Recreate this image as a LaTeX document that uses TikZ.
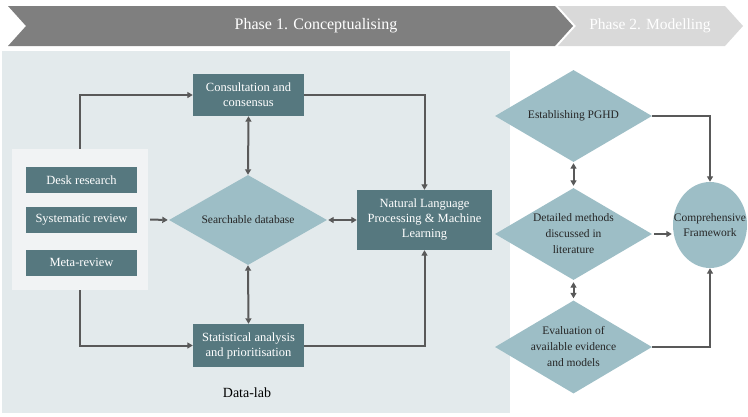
\documentclass[tikz,border=0pt]{standalone}
\usepackage{fontspec}
\setmainfont{Liberation Serif}
\usetikzlibrary{shapes.geometric,arrows.meta}

\definecolor{phaseone}{HTML}{7F7F7F}
\definecolor{phasetwo}{HTML}{D9D9D9}
\definecolor{labbg}{HTML}{E3EAEC}
\definecolor{srcbg}{HTML}{F1F3F4}
\definecolor{boxteal}{HTML}{56787F}
\definecolor{diateal}{HTML}{9DBEC6}
\definecolor{linegray}{HTML}{595959}

\begin{document}
\begin{tikzpicture}[x=1pt, y=-1pt,
  box/.style={fill=boxteal, text=white, inner sep=0pt, align=center,
    font=\fontsize{12.5}{15}\selectfont},
  dia/.style={diamond, aspect=1.7, fill=diateal, text=black!85, inner sep=0pt, align=center,
    minimum width=157pt, minimum height=92pt, font=\fontsize{11.5}{16}\selectfont},
  arr/.style={draw=linegray, line width=2pt, -{Triangle[length=5.5pt, width=6pt]}},
  biarr/.style={arr, {Triangle[length=5.5pt, width=6pt]}-{Triangle[length=5.5pt, width=6pt]}}]

  \useasboundingbox (0,0) rectangle (748,416);

  % phase banner
  \fill[phaseone] (8,6) -- (555,6) -- (573,26) -- (555,46) -- (8,46) -- (26,26) -- cycle;
  \fill[phasetwo] (558,6) -- (725,6) -- (743,26) -- (725,46) -- (558,46) -- (576,26) -- cycle;
  \node[text=white, font=\fontsize{16}{18}\selectfont] (phone) at (316,26) {Phase 1. Conceptualising};
  \node[text=white, font=\fontsize{15.5}{18}\selectfont] (phtwo) at (650,26) {Phase 2. Modelling};

  % data-lab
  \fill[labbg] (2,51) rectangle (510,413);
  \node[font=\fontsize{14}{16}\selectfont] (lab) at (247,393) {Data-lab};

  \node[fill=srcbg, minimum width=136pt, minimum height=141pt, inner sep=0pt] (src) at (80,219.5) {};
  \node[box, minimum width=111pt, minimum height=26pt] (desk) at (81.5,180) {Desk research};
  \node[box, minimum width=111pt, minimum height=26pt] (sys) at (81.5,220) {Systematic review};
  \node[box, minimum width=111pt, minimum height=26pt] (meta) at (81.5,262.5) {Meta-review};

  \node[box, minimum width=111pt, minimum height=42pt] (cons) at (248.5,95) {Consultation and\\consensus};
  \node[box, minimum width=111pt, minimum height=43pt] (stat) at (248.5,345.5) {Statistical analysis\\and prioritisation};
  \node[dia, minimum width=158pt, minimum height=90pt] (db) at (248,220) {Searchable database};
  \node[box, minimum width=135pt, minimum height=60pt] (nlp) at (424.5,220) {Natural Language\\Processing \& Machine\\Learning};

  \draw[arr] (src.north) |- (cons.west);
  \draw[arr] (src.south) |- (stat.west);
  \draw[arr, shorten <=2pt, shorten >=1pt] (src.east) -- (db.west);
  \draw[biarr] (cons.south) -- (db.north);
  \draw[biarr] (db.south) -- (stat.north);
  \draw[biarr, shorten <=1pt] (db.east) -- (nlp.west);
  \draw[arr] (cons.east) -| (nlp.north);
  \draw[arr] (stat.east) -| (nlp.south);

  % modelling
  \node[dia] (pghd) at (573.5,116) {Establishing PGHD};
  \node[dia] (meth) at (573.5,234) {Detailed methods\\discussed in\\literature};
  \node[dia, minimum height=93pt] (eval) at (573.5,347) {Evaluation of\\available evidence\\and models};
  \node[ellipse, fill=diateal, minimum width=74pt, minimum height=86pt, inner sep=0pt, align=center,
    text=black!85, font=\fontsize{11.5}{15}\selectfont] (frame) at (710,225)
    {\makebox[40pt][c]{Comprehensive}\\\makebox[40pt][c]{Framework}};

  \draw[biarr, shorten <=1pt, shorten >=2pt] (pghd.south) -- (meth.north);
  \draw[biarr, shorten <=2pt, shorten >=2pt] (meth.south) -- (eval.north);
  \draw[arr] (pghd.east) -| (frame.north);
  \draw[arr, shorten <=2pt, shorten >=1pt] (meth.east) -- (meth.east -| frame.west);
  \draw[arr] (eval.east) -| (frame.south);

\end{tikzpicture}
\end{document}
